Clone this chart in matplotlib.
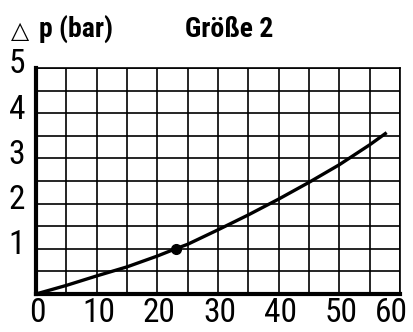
import numpy as np
import matplotlib.pyplot as plt

# pressure drop curve, flow vs delta p
flow = [0, 5, 10, 15, 20, 23, 25, 30, 35, 40, 45, 50, 55, 57.8]
dp = [0, 0.19, 0.40, 0.60, 0.84, 1.0, 1.1, 1.42, 1.75, 2.1, 2.47, 2.86, 3.3, 3.57]
mark_x = [23]
mark_y = [1.0]

xticks = [0, 10, 20, 30, 40, 50, 60]
yticks = [1, 2, 3, 4, 5]

narrow = ['Roboto Condensed', 'Roboto', 'DejaVu Sans']

fig = plt.figure(figsize=(4.14, 3.32), dpi=100)
ax = fig.add_axes([36 / 414, 1 - 294 / 332, 364 / 414, 226 / 332])

ax.set_xlim(0, 60)
ax.set_ylim(0, 5)
ax.set_xticks(np.arange(0, 61, 5))
ax.set_yticks(np.arange(0, 5.01, 0.5))
ax.grid(True, color='black', linewidth=1.2)
ax.set_axisbelow(True)
ax.tick_params(length=0)
ax.set_xticklabels([])
ax.set_yticklabels([])

for s in ['top', 'right']:
    ax.spines[s].set_linewidth(1.2)
for s in ['left', 'bottom']:
    ax.spines[s].set_linewidth(3)

ax.plot(flow, dp, color='black', linewidth=2.4, solid_capstyle='butt', clip_on=False)
ax.plot(mark_x, mark_y, 'o', color='black', markersize=7)

lab = dict(fontsize=24, family=narrow, color='black')
for t in xticks[:-1]:
    ax.text(t + 0.3, -0.06, str(t), ha='center', va='top', **lab)
ax.text(61.3, -0.06, str(xticks[-1]), ha='right', va='top', **lab)
for t in yticks:
    ax.text(-1.8, t + 0.08, str(t), ha='right', va='center', **lab)

fig.text(11 / 414, 1 - 38 / 332, '\u25b3', fontsize=17, va='baseline', ha='left',
         family='DejaVu Sans')
fig.text(39 / 414, 1 - 37 / 332, 'p (bar)', fontsize=20, fontweight='bold',
         family=narrow, va='baseline', ha='left')
fig.text(185 / 414, 1 - 37 / 332, 'Größe 2', fontsize=20, fontweight='bold',
         family=narrow, va='baseline', ha='left')

fig.savefig('out.png', dpi=100)
